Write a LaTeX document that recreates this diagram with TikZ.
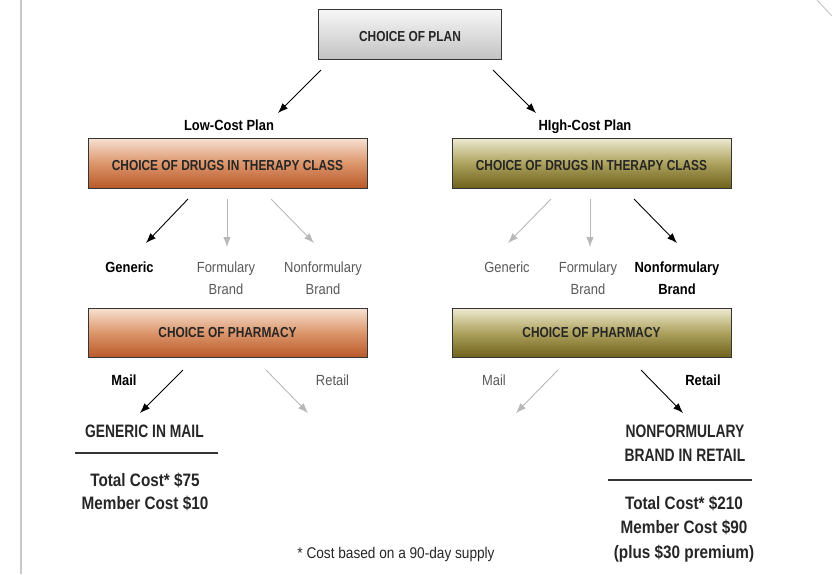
\documentclass[tikz,border=0pt]{standalone}
\usepackage{fontspec}
\setmainfont{Liberation Sans}[FakeStretch=0.88]
\newfontfamily\boxfont{Liberation Sans}[FakeStretch=0.82]
\newfontfamily\capsfont{Liberation Sans}[FakeStretch=0.77]
\newfontfamily\costfont{Liberation Sans}[FakeStretch=0.85]
\usetikzlibrary{positioning,calc}
\usetikzlibrary{arrows.meta}

\definecolor{boxline}{HTML}{353535}
\definecolor{boxtext}{HTML}{262626}
\definecolor{plantop}{HTML}{F7F7F7}
\definecolor{planbot}{HTML}{C3C3C3}
\definecolor{lowtop}{HTML}{F7E1D2}
\definecolor{lowmid}{HTML}{DC966C}
\definecolor{lowbot}{HTML}{B95A2A}
\definecolor{hightop}{HTML}{EEEBD2}
\definecolor{highmid}{HTML}{ADA25E}
\definecolor{highbot}{HTML}{6E621C}
\definecolor{skipgray}{HTML}{B8B8B8}
\definecolor{labelgray}{HTML}{585858}
\definecolor{pagerule}{HTML}{C8C8C8}

\tikzset{
   choicebox/.style={draw=boxline, line width=1pt, minimum height=50pt,
      inner sep=0pt, text=boxtext, font=\boxfont\bfseries\fontsize{14.5}{17}\selectfont},
   planbox/.style={choicebox, minimum width=183pt, top color=plantop,
      bottom color=planbot},
   lowbox/.style={choicebox, minimum width=279pt, top color=lowtop,
      bottom color=lowbot, middle color=lowmid},
   highbox/.style={choicebox, minimum width=279pt, top color=hightop,
      bottom color=highbot, middle color=highmid},
   pick/.style={draw=black, line width=0.9pt, -{Latex[length=10pt,width=7.5pt]}},
   skip/.style={draw=skipgray, line width=0.9pt, -{Latex[length=10pt,width=7.5pt]}},
   picklbl/.style={anchor=north, inner sep=0pt, align=center, text=black,
      font=\bfseries\fontsize{14.7}{21.7}\selectfont},
   skiplbl/.style={anchor=north, inner sep=0pt, align=center, text=labelgray,
      font=\fontsize{14.7}{21.7}\selectfont},
   result/.style={anchor=north, inner sep=0pt, align=center, text=boxtext,
      font=\capsfont\bfseries\fontsize{18}{23.3}\selectfont},
   cost/.style={anchor=north, inner sep=0pt, align=center, text=boxtext,
      font=\costfont\bfseries\fontsize{18}{23.3}\selectfont},
   rule/.style={draw=boxline, line width=1.2pt}
}

\begin{document}
\begin{tikzpicture}[x=1pt, y=-1pt]
   \useasboundingbox (0,0) rectangle (832,574);

   % page edges
   \draw[pagerule, line width=1.5pt] (21,0) -- (21,574);
   \draw[pagerule, line width=1pt] (817,0) -- (832,16);

   % choice boxes
   \node[planbox, text height=15.5pt, text depth=0pt] (plan) at (410,34) {CHOICE OF PLAN};
   \node[lowbox, text height=15.5pt, text depth=0pt] (lowdrug) at (227.5,163)
      {CHOICE OF DRUGS IN THERAPY CLASS};
   \node[highbox, text height=15.5pt, text depth=0pt] (highdrug) at (591.5,163)
      {CHOICE OF DRUGS IN THERAPY CLASS};
   \node[lowbox, minimum height=49pt] (lowpharm) at (227.5,332.5) {CHOICE OF PHARMACY};
   \node[highbox, minimum height=49pt] (highpharm) at (591.5,332.5) {CHOICE OF PHARMACY};

   % plan labels
   \node[picklbl] (lowplan) at (229,120) {Low-Cost Plan};
   \node[picklbl] (highplan) at (585,120) {HIgh-Cost Plan};

   % drug labels
   \node[picklbl] (lgen) at (129.5,262) {Generic};
   \node[skiplbl] (lform) at (226,262) {Formulary\\Brand};
   \node[skiplbl] (lnon) at (323,262) {Nonformulary\\Brand};
   \node[skiplbl] (hgen) at (507,262) {Generic};
   \node[skiplbl] (hform) at (588,262) {Formulary\\Brand};
   \node[picklbl] (hnon) at (677,262) {Nonformulary\\Brand};

   % pharmacy labels
   \node[picklbl] (lmail) at (124,375) {Mail};
   \node[skiplbl] (lretail) at (332.5,375) {Retail};
   \node[skiplbl] (hmail) at (494,375) {Mail};
   \node[picklbl] (hretail) at (703,375) {Retail};

   % arrow ends
   \coordinate (p1) at (321,70);   \coordinate (p1t) at (278,113);
   \coordinate (p2) at (493,70);   \coordinate (p2t) at (536,113);
   \coordinate (d1) at (188,199);  \coordinate (d1t) at (146,243);
   \coordinate (d2) at (227,199);  \coordinate (d2t) at (227,247);
   \coordinate (d3) at (271,199);  \coordinate (d3t) at (314,243);
   \coordinate (d4) at (551,199);  \coordinate (d4t) at (508,243);
   \coordinate (d5) at (590,199);  \coordinate (d5t) at (590,247);
   \coordinate (d6) at (634,199);  \coordinate (d6t) at (677,243);
   \coordinate (m1) at (183,370);  \coordinate (m1t) at (140,413);
   \coordinate (m2) at (266,370);  \coordinate (m2t) at (308,413);
   \coordinate (m3) at (558,370);  \coordinate (m3t) at (516,413);
   \coordinate (m4) at (641,370);  \coordinate (m4t) at (683,413);

   \draw[pick] (p1) -- (p1t);
   \draw[pick] (p2) -- (p2t);
   \draw[pick] (d1) -- (d1t);
   \draw[skip] (d2) -- (d2t);
   \draw[skip] (d3) -- (d3t);
   \draw[skip] (d4) -- (d4t);
   \draw[skip] (d5) -- (d5t);
   \draw[pick] (d6) -- (d6t);
   \draw[pick] (m1) -- (m1t);
   \draw[skip] (m2) -- (m2t);
   \draw[skip] (m3) -- (m3t);
   \draw[pick] (m4) -- (m4t);

   % outcomes
   \node[result] (genmail) at (144.5,425) {GENERIC IN MAIL};
   \coordinate (lrule) at (75,453);
   \draw[rule] (lrule) -- ++(143,0);
   \node[cost] (gencost) at (145,473) {Total Cost* \$75\\Member Cost \$10};

   \node[result] (nonretail) at (685,425) {NONFORMULARY\\BRAND IN RETAIL};
   \coordinate (rrule) at (608,480);
   \draw[rule] (rrule) -- ++(144,0);
   \node[cost, font=\costfont\bfseries\fontsize{18}{24.3}\selectfont] (noncost) at (684,496)
      {Total Cost* \$210\\Member Cost \$90\\(plus \$30 premium)};

   % footnote
   \node[anchor=north, inner sep=0pt, text=boxtext, font=\fontsize{15.5}{18}\selectfont]
      (note) at (396,547) {* Cost based on a 90-day supply};
\end{tikzpicture}
\end{document}
